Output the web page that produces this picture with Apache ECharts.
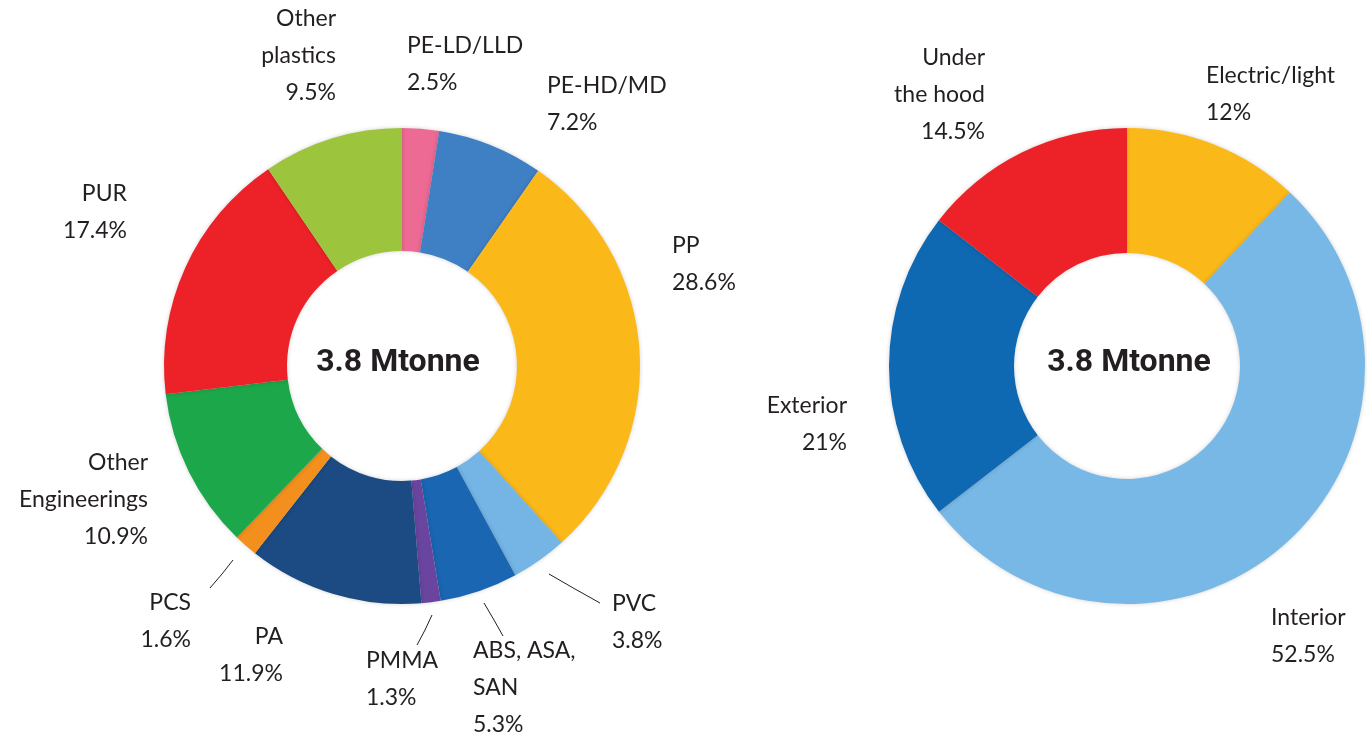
<!DOCTYPE html>
<html>
<head>
<meta charset="utf-8">
<script src="https://cdn.jsdelivr.net/npm/echarts@6/dist/echarts.min.js"></script>
<style>
  html, body { margin: 0; padding: 0; background: #ffffff; }
  #chart { width: 1367px; height: 747px; }
</style>
</head>
<body>
<div id="chart"></div>
<script>
// left donut: plastic types
var plasticNames = ["PE-LD/LLD", "PE-HD/MD", "PP", "PVC", "ABS, ASA,\nSAN", "PMMA", "PA", "PCS", "Other\nEngineerings", "PUR", "Other\nplastics"];
var plasticValues = [2.5, 7.2, 28.6, 3.8, 5.3, 1.3, 11.9, 1.6, 10.9, 17.4, 9.5];
var plasticColors = ["#ec6a94", "#3f7fc3", "#fbb919", "#74b5e5", "#1a66b3", "#6a45a0", "#1c4a82", "#f38f1d", "#1ca74b", "#ec2228", "#9cc43c"];

// right donut: application areas
var areaNames = ["Electric/light", "Interior", "Exterior", "Under\nthe hood"];
var areaValues = [12, 52.5, 21, 14.5];
var areaColors = ["#fbb919", "#78b8e6", "#0f68b2", "#ec2228"];

var centerText = "3.8 Mtonne";

// label placement (x, top y, align) and optional leader line
var plasticLabelPos = [
  { x: 407, y: 27, align: "left" },
  { x: 547, y: 67, align: "left" },
  { x: 672, y: 227, align: "left" },
  { x: 612, y: 585, align: "left", line: [[549, 574], [575, 589], [600, 603]] },
  { x: 473, y: 632, align: "left", line: [[484, 603], [494, 620], [503, 636]] },
  { x: 366, y: 642, align: "left", line: [[432, 615], [425, 630], [417, 645]] },
  { x: 283, y: 618, align: "right" },
  { x: 191, y: 584, align: "right", line: [[233, 560], [222, 574], [210, 588]] },
  { x: 148, y: 444, align: "right" },
  { x: 127, y: 175, align: "right" },
  { x: 336, y: 0, align: "right" }
];
var areaLabelPos = [
  { x: 1206, y: 57, align: "left" },
  { x: 1271, y: 599, align: "left" },
  { x: 847, y: 387, align: "right" },
  { x: 985, y: 39, align: "right" }
];

var labelFont = {
  color: "#231f20",
  fontFamily: "Lato",
  fontSize: 23,
  lineHeight: 37
};

function buildData(names, values, colors, pos) {
  return names.map(function (n, i) {
    return {
      name: n,
      value: values[i],
      itemStyle: { color: colors[i] },
      labelLine: { show: !!pos[i].line, lineStyle: { color: "#231f20", width: 1 } }
    };
  });
}

function makeLayout(pos) {
  return function (params) {
    var p = pos[params.dataIndex];
    var res = { x: p.x, y: p.y, align: p.align, verticalAlign: "top" };
    if (p.line) res.labelLinePoints = p.line;
    return res;
  };
}

var pieBase = {
  type: "pie",
  startAngle: 90,
  clockwise: true,
  avoidLabelOverlap: false,
  animation: false,
  label: Object.assign({ show: true, position: "outside", formatter: "{b}\n{c}%" }, labelFont),
  labelLine: { show: false, length: 10, length2: 10 },
  emphasis: { disabled: true },
  itemStyle: {
    borderWidth: 0,
    shadowBlur: 4,
    shadowColor: "rgba(0,0,0,0.18)"
  }
};

var option = {
  backgroundColor: "#ffffff",
  series: [
    Object.assign({}, pieBase, {
      name: "plastics",
      center: [402, 366],
      radius: [115, 238],
      data: buildData(plasticNames, plasticValues, plasticColors, plasticLabelPos),
      labelLayout: makeLayout(plasticLabelPos)
    }),
    Object.assign({}, pieBase, {
      name: "areas",
      center: [1127, 366],
      radius: [113, 238],
      data: buildData(areaNames, areaValues, areaColors, areaLabelPos),
      labelLayout: makeLayout(areaLabelPos)
    })
  ],
  graphic: [
    {
      type: "text", x: 398, y: 363,
      style: { text: centerText, fill: "#231f20", font: "bold 32px Roboto", align: "center", verticalAlign: "middle" }
    },
    {
      type: "text", x: 1129, y: 363,
      style: { text: centerText, fill: "#231f20", font: "bold 32px Roboto", align: "center", verticalAlign: "middle" }
    }
  ]
};

var myChart = echarts.init(document.getElementById("chart"));
myChart.setOption(option);
</script>
</body>
</html>
